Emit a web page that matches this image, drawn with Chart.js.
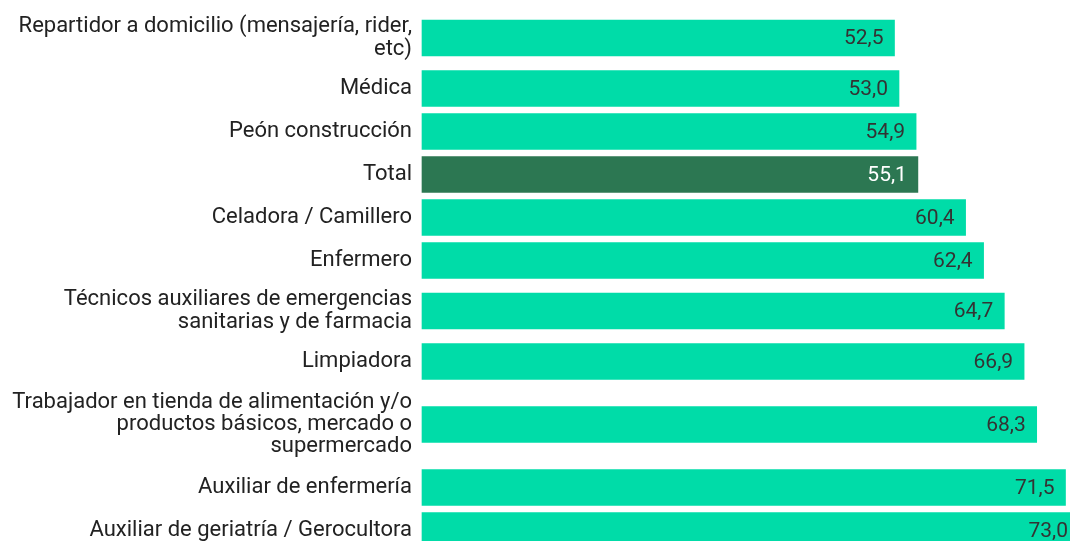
<!DOCTYPE html>
<html>
<head>
<meta charset="utf-8">
<script src="https://cdn.jsdelivr.net/npm/chart.js@4/dist/chart.umd.min.js"></script>
<style>
  html, body { margin: 0; padding: 0; background: #ffffff; }
  #wrap { width: 1070px; height: 541px; }
</style>
</head>
<body>
<div id="wrap"><canvas id="myChart" width="1070" height="541"></canvas></div>
<script>
// Occupations, each label already split into its display lines
const occupations = [
    ['Repartidor a domicilio (mensajería, rider,', 'etc)'],
    ['Médica'],
    ['Peón construcción'],
    ['Total'],
    ['Celadora / Camillero'],
    ['Enfermero'],
    ['Técnicos auxiliares de emergencias', 'sanitarias y de farmacia'],
    ['Limpiadora'],
    ['Trabajador en tienda de alimentación y/o', 'productos básicos, mercado o', 'supermercado'],
    ['Auxiliar de enfermería'],
    ['Auxiliar de geriatría / Gerocultora']
];
const values = [52.5, 53.0, 54.9, 55.1, 60.4, 62.4, 64.7, 66.9, 68.3, 71.5, 73.0];
const highlight = 'Total';

const MINT = '#00dca8';
const DARK = '#2c7752';

// Each row is as tall as its label needs; y positions are in canvas pixels
function rowHeight(lines) {
    return Math.max(43, lines * 25 + 8);
}
let cursor = 9;
const rowCenters = occupations.map(lines => {
    const h = rowHeight(lines.length);
    const c = cursor + h / 2;
    cursor += h;
    return c;
});

const barColors = occupations.map(l => l[0] === highlight ? DARK : MINT);

// Value written inside the end of every bar, decimal comma
const barValueLabels = {
    id: 'barValueLabels',
    afterDatasetsDraw(chart) {
        const ctx = chart.ctx;
        const meta = chart.getDatasetMeta(0);
        ctx.save();
        ctx.font = '21px Roboto';
        ctx.textAlign = 'right';
        ctx.textBaseline = 'middle';
        meta.data.forEach((bar, i) => {
            ctx.fillStyle = occupations[i][0] === highlight ? '#ffffff' : '#333333';
            ctx.fillText(values[i].toFixed(1).replace('.', ','), bar.x - 11, bar.y + 1);
        });
        ctx.restore();
    }
};

const ctx = document.getElementById('myChart').getContext('2d');
const myChart = new Chart(ctx, {
    type: 'bar',
    data: {
        datasets: [{
            data: values.map((v, i) => ({ x: v, y: rowCenters[i] })),
            backgroundColor: barColors,
            borderWidth: 0,
            barThickness: 36,
            clip: false
        }]
    },
    options: {
        indexAxis: 'y',
        responsive: false,
        animation: false,
        layout: { padding: 0 },
        plugins: {
            legend: { display: false },
            tooltip: { enabled: false }
        },
        scales: {
            x: {
                display: false,
                min: 0,
                max: 72
            },
            y: {
                type: 'linear',
                reverse: true,
                offset: false,
                min: 0,
                max: 541,
                grid: { display: false, drawTicks: false, offset: false },
                border: { display: false },
                afterBuildTicks(scale) {
                    scale.ticks = rowCenters.map(c => ({ value: c }));
                },
                afterFit(scale) {
                    // fixed label column, and no extra room above/below for labels
                    scale.width = 422;
                    scale.paddingTop = 0;
                    scale.paddingBottom = 0;
                },
                ticks: {
                    autoSkip: false,
                    padding: 10,
                    color: '#222222',
                    font: { family: 'Roboto', size: 22, lineHeight: 1.02 },
                    callback: function(value, index) {
                        return occupations[index];
                    }
                }
            }
        }
    },
    plugins: [barValueLabels]
});
</script>
</body>
</html>
